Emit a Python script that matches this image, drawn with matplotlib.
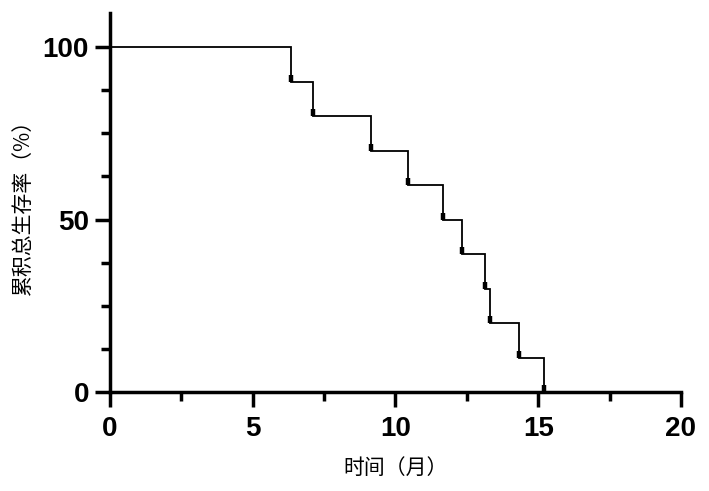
import numpy as np
import matplotlib
matplotlib.use("Agg")
import matplotlib.pyplot as plt
from matplotlib.ticker import MultipleLocator

# event times (months) and survival after each event (%)
event_times = [6.34, 7.12, 9.13, 10.45, 11.65, 12.33, 13.13, 13.31, 14.31, 15.21]
survival = [90, 80, 70, 60, 50, 40, 30, 20, 10, 0]

x_label = "时间（月）"
y_label = "累积总生存率（%）"
x_ticks = [0, 5, 10, 15, 20]
y_ticks = [0, 50, 100]

cjk = ['Noto Sans CJK SC', 'DejaVu Sans']

fig = plt.figure(figsize=(7.09, 4.91), dpi=100)
ax = fig.add_axes([0.155, 0.2016, 0.8055, 0.7729])

# build the step curve
xs = [0] + event_times
ys = [100] + survival
ax.step(xs, ys, where='post', color='black', lw=1.3, solid_joinstyle='miter')
# small marks at the foot of each drop
ax.vlines(event_times, survival, np.array(survival) + 2.0, color='black', lw=3.2)

ax.set_xlim(0, 20)
ax.set_ylim(0, 110)
ax.set_xticks(x_ticks)
ax.set_yticks(y_ticks)
ax.xaxis.set_minor_locator(MultipleLocator(2.5))
ax.yaxis.set_minor_locator(MultipleLocator(12.5))

for s in ['top', 'right']:
    ax.spines[s].set_visible(False)
for s in ['left', 'bottom']:
    ax.spines[s].set_linewidth(2.5)
ax.spines['left'].set_bounds(0, 110)
ax.spines['bottom'].set_bounds(0, 20)

ax.tick_params(which='major', length=11, width=2.5, direction='out')
ax.tick_params(which='minor', length=6.5, width=2.5, direction='out')
ax.tick_params(axis='x', which='major', pad=6)
ax.tick_params(axis='y', which='major', pad=4)

for lab in ax.get_xticklabels() + ax.get_yticklabels():
    lab.set_fontfamily('Liberation Sans')
    lab.set_fontweight('bold')
    lab.set_fontsize(20)

ax.set_xlabel(x_label, family=cjk, fontsize=15, labelpad=11)
ax.set_ylabel(y_label, family=cjk, fontsize=15, labelpad=6)

fig.savefig("out.png", dpi=100)
